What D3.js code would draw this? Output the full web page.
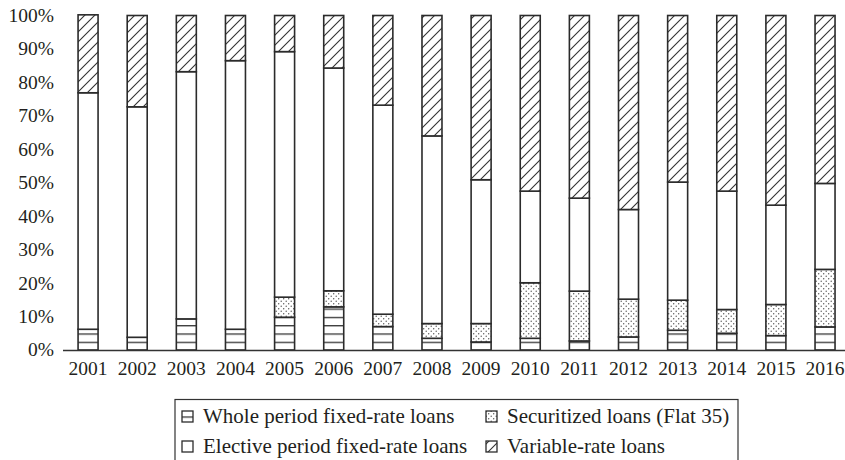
<!DOCTYPE html>
<html>
<head>
<meta charset="utf-8">
<script src="https://cdn.jsdelivr.net/npm/d3@7"></script>
<style>
  body { margin: 0; background: #fff; }
  svg text { font-family: "Liberation Serif", "DejaVu Serif", serif; fill: #231f20; }
</style>
</head>
<body>
<div id="chart"></div>
<script>
const width = 845, height = 460;

const years = ["2001","2002","2003","2004","2005","2006","2007","2008",
               "2009","2010","2011","2012","2013","2014","2015","2016"];
const wholeFixed  = [6.2, 3.8, 9.3, 6.2, 9.8, 12.9, 7.0, 3.5, 2.4, 3.5, 2.7, 3.9, 5.9, 5.0, 4.3, 6.9];
const securitized = [0, 0, 0, 0, 6.0, 4.8, 3.7, 4.4, 5.5, 16.6, 14.9, 11.3, 9.0, 7.1, 9.3, 17.2];
const elective    = [70.7, 68.9, 73.9, 80.3, 73.4, 66.6, 62.5, 56.1, 43.0, 27.4, 27.8, 26.8, 35.3, 35.4, 29.7, 25.7];
const variable    = [23.3, 27.3, 16.8, 13.5, 10.8, 15.7, 26.8, 36.0, 49.1, 52.5, 54.6, 58.0, 49.8, 52.5, 56.7, 50.2];
const seriesNames = ["Whole period fixed-rate loans", "Securitized loans (Flat 35)",
                     "Elective period fixed-rate loans", "Variable-rate loans"];
const yTicks = [0, 10, 20, 30, 40, 50, 60, 70, 80, 90, 100];

const keys = ["whole", "sec", "elect", "vari"];
const fills = { whole: "url(#pat-lines)", sec: "url(#pat-dots)", elect: "#fff", vari: "url(#pat-hatch)" };

const rows = years.map((y, i) => ({
    year: y, whole: wholeFixed[i], sec: securitized[i], elect: elective[i], vari: variable[i]
}));
const stacked = d3.stack().keys(keys)(rows);

const x = d3.scaleBand().domain(years).range([63.5, 849.6]).paddingInner(0.593).paddingOuter(0.2965);
const y = d3.scaleLinear().domain([0, 100]).range([350, 15.5]);

const svg = d3.select("#chart").append("svg")
    .attr("width", width).attr("height", height);

// patterns
const defs = svg.append("defs");
defs.append("pattern").attr("id", "pat-lines")
    .attr("patternUnits", "userSpaceOnUse").attr("width", 8).attr("height", 8.3)
    .attr("patternTransform", `translate(0,${y(0) % 8.3})`)
  .append("line").attr("x1", 0).attr("x2", 8).attr("y1", 0.5).attr("y2", 0.5)
    .attr("stroke", "#333").attr("stroke-width", 1.6);

const dots = defs.append("pattern").attr("id", "pat-dots")
    .attr("patternUnits", "userSpaceOnUse").attr("width", 5).attr("height", 5);
dots.append("rect").attr("width", 5).attr("height", 5).attr("fill", "#fff");
dots.append("circle").attr("cx", 1.2).attr("cy", 1.2).attr("r", 0.7).attr("fill", "#555");
dots.append("circle").attr("cx", 3.7).attr("cy", 3.7).attr("r", 0.7).attr("fill", "#555");

const hatch = defs.append("pattern").attr("id", "pat-hatch")
    .attr("patternUnits", "userSpaceOnUse").attr("width", 10).attr("height", 10);
hatch.append("rect").attr("width", 10).attr("height", 10).attr("fill", "#fff");
hatch.append("path").attr("d", "M-1,11 L11,-1 M-2,2 L2,-2 M8,12 L12,8")
    .attr("stroke", "#333").attr("stroke-width", 1.1);

// y labels
svg.append("g").selectAll("text").data(yTicks).join("text")
    .attr("x", 54).attr("y", d => y(d)).attr("dy", "0.33em")
    .attr("text-anchor", "end").attr("font-size", 19.5)
    .text(d => d + "%");

// bars
svg.append("g").selectAll("g").data(stacked).join("g")
    .attr("fill", d => fills[d.key])
  .selectAll("rect").data(d => d.filter(s => s[1] - s[0] > 0)).join("rect")
    .attr("x", d => x(d.data.year))
    .attr("width", x.bandwidth())
    .attr("y", d => y(d[1]))
    .attr("height", d => y(d[0]) - y(d[1]))
    .attr("stroke", "#2b2b2b").attr("stroke-width", 1.6);

// x axis line and labels
svg.append("line").attr("x1", 63).attr("x2", 845).attr("y1", 350.5).attr("y2", 350.5)
    .attr("stroke", "#333").attr("stroke-width", 1.5);
svg.append("g").selectAll("text").data(years).join("text")
    .attr("x", d => x(d) + x.bandwidth() / 2).attr("y", 375)
    .attr("text-anchor", "middle").attr("font-size", 19.5)
    .text(d => d);

// legend
const legend = svg.append("g");
legend.append("rect").attr("x", 175).attr("y", 399.5).attr("width", 563).attr("height", 80)
    .attr("fill", "none").attr("stroke", "#333").attr("stroke-width", 1.2);
const legendPos = [[182, 423], [486, 423], [182, 453], [486, 453]];
keys.forEach((k, i) => {
    const [lx, ly] = legendPos[i];
    legend.append("rect").attr("x", lx).attr("y", ly - 12).attr("width", 11).attr("height", 11)
        .attr("fill", fills[k]).attr("stroke", "#2b2b2b").attr("stroke-width", 1.3);
    legend.append("text").attr("x", lx + 21).attr("y", ly).attr("font-size", 21)
        .text(seriesNames[i]);
});
</script>
</body>
</html>
